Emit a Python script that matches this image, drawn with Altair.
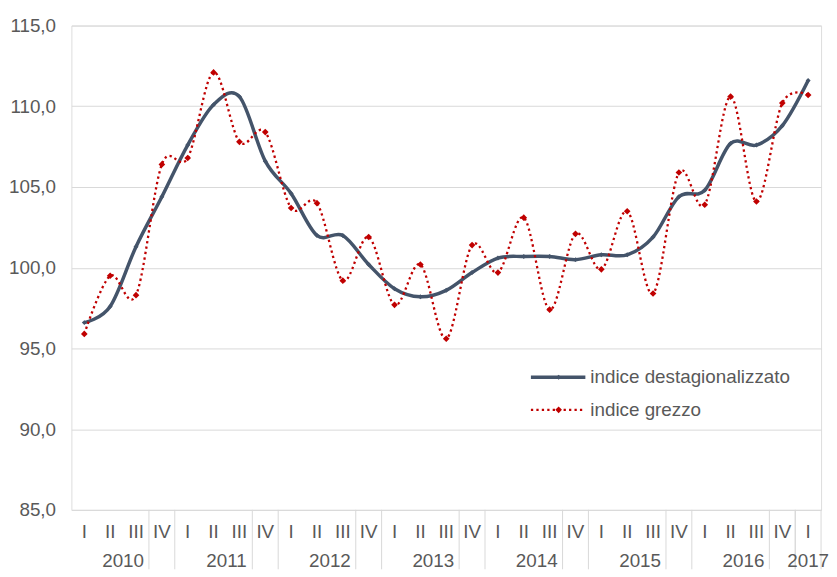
import altair as alt
import pandas as pd

years = ["2010", "2011", "2012", "2013", "2014", "2015", "2016", "2017"]
quarter_names = ["I", "II", "III", "IV"]
quarters = quarter_names * 7 + ["I"]
year_of = [y for y in years[:-1] for _ in range(4)] + ["2017"]

destag = [96.6, 97.6, 101.3, 104.4, 107.6, 110.1, 110.6, 106.6, 104.6, 102.0,
          102.0, 100.2, 98.7, 98.2, 98.6, 99.7, 100.6, 100.7, 100.7, 100.5,
          100.8, 100.8, 101.9, 104.4, 104.8, 107.7, 107.6, 108.8, 111.6]
grezzo = [95.9, 99.5, 98.3, 106.4, 106.8, 112.1, 107.8, 108.4, 103.7, 104.0,
          99.2, 101.9, 97.7, 100.2, 95.6, 101.4, 99.7, 103.1, 97.4, 102.1,
          99.9, 103.5, 98.4, 105.9, 103.9, 110.6, 104.1, 110.2, 110.7]

legend_labels = ["indice destagionalizzato", "indice grezzo"]
y_ticks = [85, 90, 95, 100, 105, 110, 115]

BLUE = "#44546A"
RED = "#C00000"
GRID = "#D9D9D9"
TXT = "#595959"
FONT = "Liberation Sans, Arial, sans-serif"
FS = 19
W, H = 757, 489

df = pd.DataFrame({
    "idx": list(range(len(destag))),
    "quarter": quarters,
    "year": year_of,
    "destag": destag,
    "grezzo": grezzo,
})

xs = alt.Scale(domain=[-0.5, len(destag) - 0.5], nice=False, zero=False)
ys = alt.Scale(domain=[85, 115], nice=False, zero=False)
X = alt.X("idx:Q", scale=xs, axis=None)
yaxis = alt.Axis(values=y_ticks, labelExpr="replace(format(datum.value, '.1f'), '.', ',')",
                 grid=True, domain=False, ticks=False, labelFontSize=FS, labelColor=TXT,
                 labelPadding=16, gridColor=GRID, gridWidth=1, title=None, labelFont=FONT)

base = alt.Chart(df)

blue_line = base.mark_line(color=BLUE, strokeWidth=3.5, interpolate="cardinal").encode(
    x=X, y=alt.Y("destag:Q", scale=ys, axis=yaxis))
blue_pts = base.mark_point(shape="diamond", filled=True, size=25, color=BLUE, opacity=1).encode(
    x=X, y=alt.Y("destag:Q", scale=ys))
red_line = base.mark_line(color=RED, strokeWidth=2.3, strokeDash=[2.3, 3.2],
                          interpolate="cardinal").encode(x=X, y=alt.Y("grezzo:Q", scale=ys))
red_pts = base.mark_point(shape="diamond", filled=True, size=45, color=RED, opacity=1).encode(
    x=X, y=alt.Y("grezzo:Q", scale=ys))

q_text = base.mark_text(fontSize=FS, color=TXT, baseline="middle", font=FONT).encode(
    x=X, y=alt.value(511), text="quarter:N")

y_text = base.transform_aggregate(center="mean(idx)", groupby=["year"]).mark_text(
    fontSize=FS, color=TXT, baseline="middle", font=FONT).encode(
    x=alt.X("center:Q", scale=xs, axis=None), y=alt.value(541), text="year:N")

sep_start = base.transform_aggregate(s="min(idx)", groupby=["year"]).transform_calculate(
    b="datum.s - 0.5").mark_rule(color=GRID, strokeWidth=1).encode(
    x=alt.X("b:Q", scale=xs, axis=None), y=alt.value(H), y2=alt.value(H + 60))
sep_end = base.transform_aggregate(s="max(idx)", groupby=["year"]).transform_calculate(
    b="datum.s + 0.5").mark_rule(color=GRID, strokeWidth=1).encode(
    x=alt.X("b:Q", scale=xs, axis=None), y=alt.value(H), y2=alt.value(H + 60))

leg1 = pd.DataFrame({"label": [legend_labels[0]]})
leg2 = pd.DataFrame({"label": [legend_labels[1]]})
LX0, LX1, LXM, LXT = 464, 519, 492, 524
LY1, LY2 = 355, 388

l1_line = alt.Chart(leg1).mark_rule(color=BLUE, strokeWidth=3.5).encode(
    x=alt.value(LX0), x2=alt.value(LX1), y=alt.value(LY1))
l1_pt = alt.Chart(leg1).mark_point(shape="diamond", filled=True, size=25, color=BLUE, opacity=1).encode(
    x=alt.value(LXM), y=alt.value(LY1))
l1_txt = alt.Chart(leg1).mark_text(fontSize=FS, color=TXT, align="left", baseline="middle", font=FONT).encode(
    x=alt.value(LXT), y=alt.value(LY1), text="label:N")
l2_line = alt.Chart(leg2).mark_rule(color=RED, strokeWidth=2.3, strokeDash=[2.3, 3.2]).encode(
    x=alt.value(LX0), x2=alt.value(LX1), y=alt.value(LY2))
l2_pt = alt.Chart(leg2).mark_point(shape="diamond", filled=True, size=45, color=RED, opacity=1).encode(
    x=alt.value(LXM), y=alt.value(LY2))
l2_txt = alt.Chart(leg2).mark_text(fontSize=FS, color=TXT, align="left", baseline="middle", font=FONT).encode(
    x=alt.value(LXT), y=alt.value(LY2), text="label:N")

chart = alt.layer(
    sep_start, sep_end, blue_line, blue_pts, red_line, red_pts, q_text, y_text,
    l1_line, l1_pt, l1_txt, l2_line, l2_pt, l2_txt
).properties(
    width=W, height=H,
    padding={"left": 64, "top": 15, "right": 8, "bottom": 60},
    autosize=alt.AutoSizeParams(type="none"),
).configure_view(strokeWidth=0).configure(font=FONT)

chart.save("out.html", embed_options={"renderer": "svg", "actions": False})
